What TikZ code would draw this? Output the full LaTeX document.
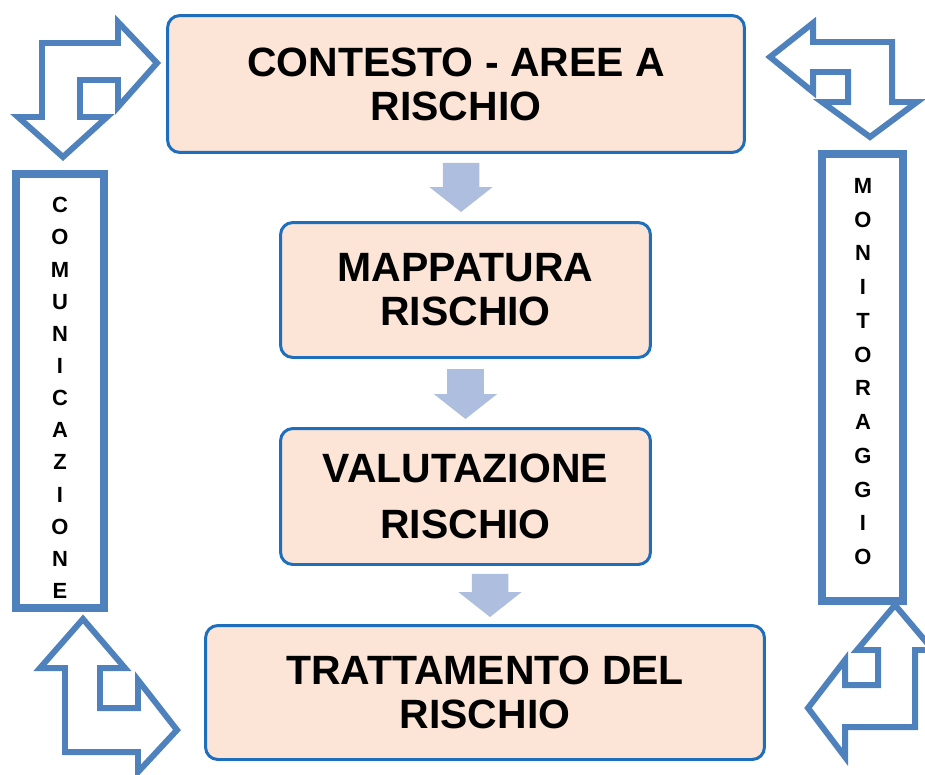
\documentclass[tikz,border=0pt]{standalone}
\usepackage{fontspec}
\setmainfont{Liberation Sans}
\usetikzlibrary{arrows.meta}

\definecolor{boxblue}{RGB}{30,110,190}
\definecolor{peach}{RGB}{252,228,214}
\definecolor{sideblue}{RGB}{79,129,189}
\definecolor{flowblue}{RGB}{174,190,222}

\begin{document}
\begin{tikzpicture}[x=0.02cm,y=-0.02cm,
		phase/.style={draw=boxblue, line width=1.7pt, fill=peach, rounded corners=7pt,
			align=center, inner sep=0pt, font=\fontsize{23.3}{25}\selectfont\bfseries},
		sidebox/.style={draw=sideblue, line width=4.5pt, inner sep=0pt},
		sidetext/.style={align=center, inner sep=0pt, font=\fontsize{12.5}{18.3}\selectfont\bfseries},
		flow/.style={draw=flowblue, line width=0.73cm, -{Triangle[width=1.24cm,length=0.5cm]}},
		bentarrow/.style={draw=sideblue, line width=3.4pt, fill=white, line join=miter}]
	\useasboundingbox (0,0) rectangle (925,774);

	% Main phases
	\node[phase, minimum width=11.54cm, minimum height=2.74cm] (contesto) at (456,84) {CONTESTO - AREE A\\RISCHIO};
	\node[phase, minimum width=7.4cm, minimum height=2.7cm] (mappatura) at (465.5,290) {MAPPATURA\\RISCHIO};
	\node[phase, minimum width=7.4cm, minimum height=2.72cm] (valutazione) at (465.5,496.5) {VALUTAZIONE\\[7pt]RISCHIO};
	\node[phase, minimum width=11.18cm, minimum height=2.68cm] (trattamento) at (485,692.5) {TRATTAMENTO DEL\\RISCHIO};

	% Flow between phases
	\draw[flow, shorten <=0.18cm, shorten >=0.18cm] ([xshift=0.1cm]contesto.south) -- ([xshift=-0.09cm]mappatura.north);
	\draw[flow, shorten <=0.2cm, shorten >=0.16cm] (mappatura.south) -- (valutazione.north);
	\draw[flow, shorten <=0.16cm, shorten >=0.14cm] ([xshift=0.49cm]valutazione.south) -- ([xshift=0.1cm]trattamento.north);

	% Side boxes
	\node[sidebox, minimum width=1.76cm, minimum height=8.68cm] (comunicazione) at (60,391) {};
	\node[sidetext] (comtext) at (60,398) {C\\O\\M\\U\\N\\I\\C\\A\\Z\\I\\O\\N\\E};

	\node[sidebox, minimum width=1.62cm, minimum height=8.94cm] (monitoraggio) at (862.5,377.5) {};
	\node[sidetext, font=\fontsize{12.5}{19.2}\selectfont\bfseries] (montext) at (863,371.5) {M\\O\\N\\I\\T\\O\\R\\A\\G\\G\\I\\O};

	% Bent arrows in the corners
	\draw[bentarrow] (42,43) -- (118,43) -- (118,22) -- (157,63) -- (118,107) -- (118,80) -- (80,80)
		-- (80,117) -- (107,117) -- (63,157) -- (18,117) -- (42,117) -- cycle;
	\draw[bentarrow] (892,42) -- (892,102) -- (917,102) -- (870,137) -- (822,102) -- (848,102) -- (848,72)
		-- (813,72) -- (813,92) -- (770,57) -- (813,23) -- (813,42) -- cycle;
	\draw[bentarrow] (83,619) -- (125,668) -- (100,668) -- (100,708) -- (138,708) -- (138,680) -- (177,730)
		-- (138,772) -- (138,752) -- (65,752) -- (65,668) -- (40,668) -- cycle;
	\draw[bentarrow] (895,605) -- (933,650) -- (915,650) -- (915,727) -- (845,727) -- (845,757) -- (808,708)
		-- (845,660) -- (845,685) -- (878,685) -- (878,650) -- (857,650) -- cycle;
\end{tikzpicture}
\end{document}
